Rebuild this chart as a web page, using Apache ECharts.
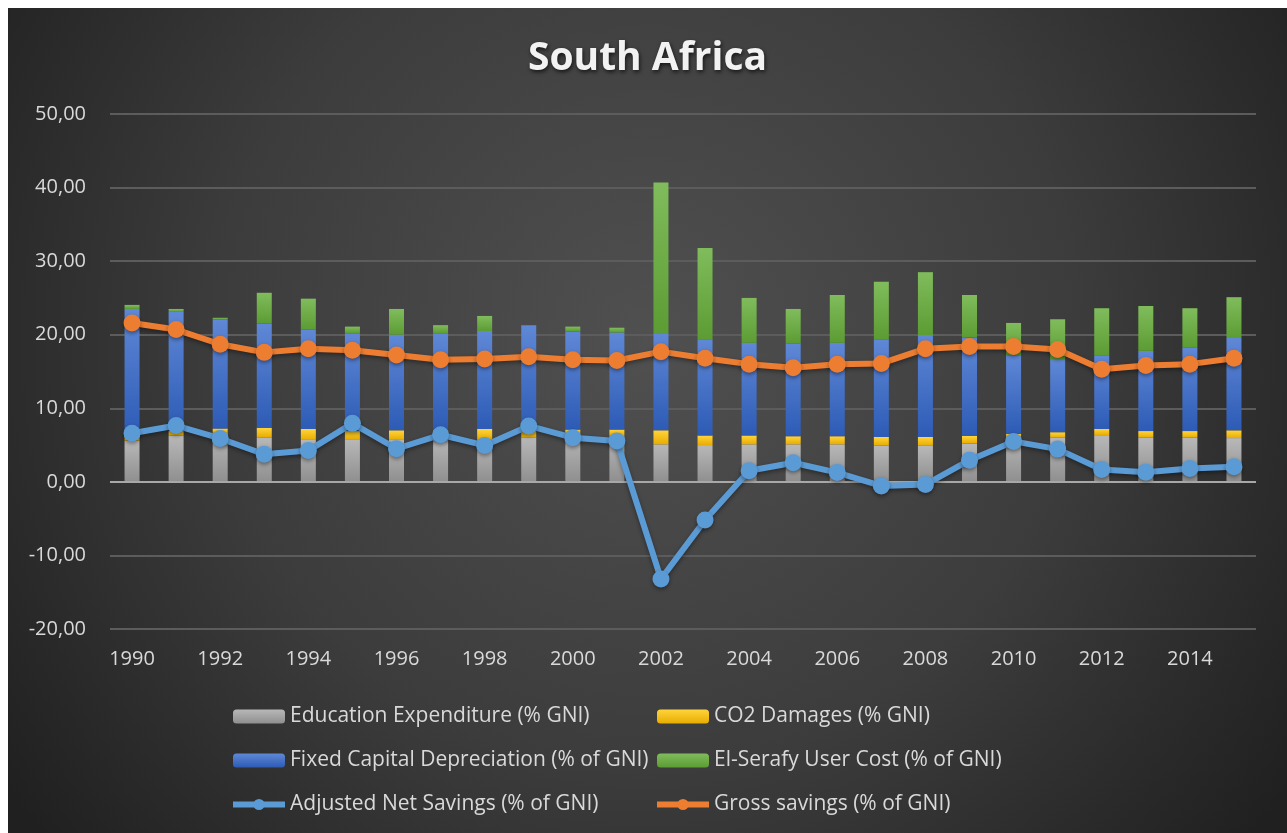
<!DOCTYPE html>
<html>
<head>
<meta charset="utf-8">
<title>South Africa</title>
<script src="https://cdn.jsdelivr.net/npm/echarts@6/dist/echarts.min.js"></script>
<style>
  html, body { margin: 0; padding: 0; background: #fff; }
  #chart { position: absolute; left: 8px; top: 8px; width: 1279px; height: 825px; }
</style>
</head>
<body>
<div id="chart"></div>
<script>
// data
var years = ['1990', '1991', '1992', '1993', '1994', '1995', '1996', '1997', '1998', '1999', '2000', '2001', '2002',
  '2003', '2004', '2005', '2006', '2007', '2008', '2009', '2010', '2011', '2012', '2013', '2014', '2015']
var education = [5.6, 6.3, 6.65, 6.05, 5.7, 5.8, 5.7, 6.0, 5.7, 6.0, 6.5, 6.2, 5.1,
  5.0, 5.1, 5.1, 5.1, 4.95, 4.9, 5.2, 6.2, 6.0, 6.35, 6.0, 6.0, 5.95]
var co2 = [0.7, 0.6, 0.6, 1.3, 1.5, 1.1, 1.3, 1.0, 1.5, 0.9, 0.6, 0.9, 1.9,
  1.3, 1.2, 1.1, 1.1, 1.15, 1.2, 1.05, 0.3, 0.75, 0.85, 0.9, 0.9, 1.05]
var fixedCapital = [17.2, 16.2, 14.85, 14.15, 13.5, 13.3, 13.0, 13.2, 13.3, 14.4, 13.35, 13.2, 13.1,
  13.1, 12.6, 12.6, 12.7, 13.3, 13.85, 13.35, 10.7, 9.8, 10.0, 10.9, 11.4, 12.55]
var elSerafy = [0.55, 0.4, 0.2, 4.2, 4.2, 0.9, 3.5, 1.1, 2.05, 0.0, 0.65, 0.65, 20.6,
  12.4, 6.1, 4.7, 6.5, 7.8, 8.55, 5.8, 4.4, 5.55, 6.4, 6.1, 5.3, 5.55]
var adjustedNet = [6.6, 7.65, 5.9, 3.75, 4.25, 7.95, 4.5, 6.4, 4.95, 7.6, 6.0, 5.55, -13.2,
  -5.2, 1.5, 2.6, 1.26, -0.55, -0.36, 2.95, 5.5, 4.45, 1.68, 1.3, 1.8, 2.04]
var grossSavings = [21.6, 20.7, 18.7, 17.6, 18.1, 17.9, 17.25, 16.6, 16.7, 17.0, 16.6, 16.5, 17.7,
  16.8, 16.0, 15.5, 16.0, 16.1, 18.1, 18.4, 18.4, 18.0, 15.3, 15.8, 16.0, 16.8]
var yTicks = { min: -20, max: 50, interval: 10 }

var names = {
  edu: 'Education Expenditure (% GNI)',
  co2: 'CO2 Damages (% GNI)',
  fixed: 'Fixed Capital Depreciation (% of GNI)',
  elser: 'El-Serafy User Cost (% of GNI)',
  ans: 'Adjusted Net Savings (% of GNI)',
  gross: 'Gross savings (% of GNI)'
}

var font = '"Open Sans", "Noto Sans", sans-serif'
var textColor = '#d9d9d9'

function vgrad(top, bottom) {
  return new echarts.graphic.LinearGradient(0, 0, 0, 1, [
    { offset: 0, color: top },
    { offset: 1, color: bottom }
  ])
}

function barSeries(name, data, top, bottom, extra) {
  var s = {
    name: name,
    type: 'bar',
    stack: 'total',
    barWidth: 15,
    data: data,
    itemStyle: { color: vgrad(top, bottom) },
    emphasis: { disabled: true },
    animation: false
  }
  return Object.assign(s, extra || {})
}

function lineSeries(name, data, color) {
  return {
    name: name,
    type: 'line',
    data: data,
    symbol: 'circle',
    symbolSize: 17,
    z: 5,
    lineStyle: { color: color, width: 6, shadowColor: 'rgba(0,0,0,0.4)', shadowBlur: 4, shadowOffsetY: 2 },
    itemStyle: { color: color, shadowColor: 'rgba(0,0,0,0.4)', shadowBlur: 4, shadowOffsetY: 2 },
    emphasis: { disabled: true },
    animation: false
  }
}

var legendBase = {
  orient: 'vertical',
  itemWidth: 52,
  itemHeight: 14,
  itemGap: 23,
  lineStyle: { width: 6 },
  textStyle: { color: textColor, fontSize: 21, fontFamily: font },
  selectedMode: false
}

var chart = echarts.init(document.getElementById('chart'))
chart.setOption({
  backgroundColor: {
    type: 'radial', x: 0.5, y: 0.4, r: 0.95,
    colorStops: [
      { offset: 0, color: '#505050' },
      { offset: 0.55, color: '#3c3c3c' },
      { offset: 1, color: '#202020' }
    ]
  },
  title: {
    text: 'South Africa',
    left: 'center',
    top: 26,
    textStyle: {
      color: '#f2f2f2',
      fontSize: 39,
      fontWeight: 'bold',
      fontFamily: font,
      textShadowColor: 'rgba(0,0,0,0.7)',
      textShadowBlur: 4,
      textShadowOffsetX: 1,
      textShadowOffsetY: 2
    }
  },
  legend: [
    Object.assign({ left: 217, top: 693, data: [names.edu, names.fixed, names.ans] }, legendBase),
    Object.assign({ left: 641, top: 693, data: [names.co2, names.elser, names.gross] }, legendBase)
  ],
  grid: { left: 102, right: 31, top: 106, bottom: 204 },
  xAxis: [{
    type: 'category',
    data: years,
    axisLine: { show: false, onZero: false },
    axisTick: { show: false },
    axisLabel: { color: textColor, fontSize: 20, fontFamily: font, interval: 1, margin: 20 },
    splitLine: { show: false }
  }],
  yAxis: {
    type: 'value',
    min: yTicks.min,
    max: yTicks.max,
    interval: yTicks.interval,
    axisLine: { show: false },
    axisTick: { show: false },
    axisLabel: {
      color: textColor,
      fontSize: 20,
      fontFamily: font,
      margin: 24,
      formatter: function(v) { return v.toFixed(2).replace('.', ',') }
    },
    splitLine: { lineStyle: { color: '#5c5c5c', width: 2 } }
  },
  series: [
    barSeries(names.edu, education, '#b8b8b8', '#8f8f8f', {
      markLine: {
        silent: true,
        symbol: 'none',
        label: { show: false },
        lineStyle: { color: '#a8a8a8', width: 2, type: 'solid' },
        data: [{ yAxis: 0 }],
        animation: false
      }
    }),
    barSeries(names.co2, co2, '#ffd43b', '#e8ac00'),
    barSeries(names.fixed, fixedCapital, '#5f88d6', '#2d5bb5'),
    barSeries(names.elser, elSerafy, '#80bc5c', '#5c9c33'),
    lineSeries(names.ans, adjustedNet, '#5b9bd5'),
    lineSeries(names.gross, grossSavings, '#ed7d31')
  ]
})
</script>
</body>
</html>
